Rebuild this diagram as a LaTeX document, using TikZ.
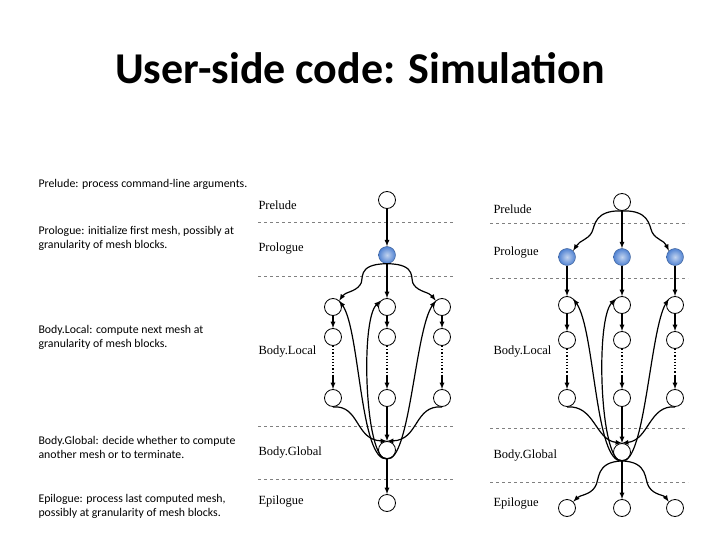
\documentclass[tikz,border=0pt]{standalone}
\usepackage{fontspec}
\setmainfont{Liberation Serif}
\newfontfamily\sansf{Carlito}
\definecolor{bfill}{RGB}{80,130,210}
\begin{document}
\begin{tikzpicture}[x=1pt,y=-1pt,
 nd/.style={circle,draw,thick,minimum size=17pt,inner sep=0pt,fill=white},
 bn/.style={nd,draw=bfill!70!black,inner color=bfill!35!white,outer color=bfill,thin},
 ar/.style={very thick,-{latex}},
 dl/.style={dashed,gray},
 lab/.style={anchor=west,font=\fontsize{12.5}{14}\selectfont},
 txt/.style={anchor=west,font=\sansf\fontsize{11.8}{14}\selectfont,align=left}]
\useasboundingbox (0,0) rectangle (720,540);
\node[font=\sansf\bfseries\fontsize{44}{48}\selectfont] (title) at (360,68) {User-side code: Simulation};
\node[txt] (t1) at (35,184) {Prelude: process command-line arguments.};
\node[txt] (t2) at (35,238) {Prologue: initialize first mesh, possibly at\\granularity of mesh blocks.};
\node[txt] (t3) at (35,337) {Body.Local: compute next mesh at\\granularity of mesh blocks.};
\node[txt] (t4) at (35,447) {Body.Global: decide whether to compute\\another mesh or to terminate.};
\node[txt] (t5) at (35,506) {Epilogue: process last computed mesh,\\possibly at granularity of mesh blocks.};
% dashed lines
\foreach \y in {222,276,426,479} \draw[dl] (258,\y) -- (455,\y);
\foreach \y in {223,278,428,482} \draw[dl] (490,\y) -- (688,\y);
% labels
\node[lab] (l1) at (255,205) {Prelude};
\node[lab] (l2) at (255,249) {Prologue};
\node[lab] (l3) at (255,352) {Body.Local};
\node[lab] (l4) at (255,453) {Body.Global};
\node[lab] (l5) at (255,502) {Epilogue};
\node[lab] (r1) at (490,209) {Prelude};
\node[lab] (r2) at (490,253) {Prologue};
\node[lab] (r3) at (490,352) {Body.Local};
\node[lab] (r4) at (490,456) {Body.Global};
\node[lab] (r5) at (490,504) {Epilogue};
% ---- left graph
\node[nd] (a0) at (387,200) {};
\node[bn] (a1) at (387,255) {};
\foreach \c/\x in {1/333,2/387,3/442}{
 \node[nd] (aa\c) at (\x,307) {};
 \node[nd] (ab\c) at (\x,337) {};
 \node[nd] (ac\c) at (\x,398) {};
 \draw[ar] (aa\c) -- (ab\c);
 \draw[very thick,dotted] (ab\c) -- (\x,375);
 \draw[ar] (\x,375) -- (ac\c);
}
\node[nd] (ag) at (387,450) {};
\node[nd] (ae) at (387,503) {};
\draw[ar] (a0) -- (a1);
\draw[ar] (a1) -- (aa2);
\draw[ar] (a1.south) .. controls (355,264) and (365,280) .. (360,285) .. controls (355,292) and (345,292) .. (aa1.north east);
\draw[ar] (a1.south) .. controls (419,264) and (409,280) .. (414,285) .. controls (419,292) and (429,292) .. (aa3.north west);
\draw[ar] (ac2) -- (ag);
\draw[ar] (ac1.south) .. controls (360,405) and (355,440) .. (ag.north);
\draw[ar] (ac3.south) .. controls (414,405) and (419,440) .. (ag.north);
\draw[ar] (ag.south) .. controls (360,462) and (360,330) .. (aa1.north east);
\draw[ar] (ag.south) .. controls (365,462) and (360,320) .. (aa2.north west);
\draw[ar] (ag.south) .. controls (410,462) and (415,330) .. (aa3.north west);
\draw[ar] (ag) -- (ae);
% ---- right graph
\node[nd] (b0) at (622,202) {};
\foreach \c/\x in {1/567,2/622,3/675}{
 \node[bn] (bp\c) at (\x,257) {};
 \node[nd] (ba\c) at (\x,305) {};
 \node[nd] (bb\c) at (\x,340) {};
 \node[nd] (bc\c) at (\x,398) {};
 \node[nd] (be\c) at (\x,508) {};
 \draw[ar] (bp\c) -- (ba\c);
 \draw[ar] (ba\c) -- (bb\c);
 \draw[very thick,dotted] (bb\c) -- (\x,375);
 \draw[ar] (\x,375) -- (bc\c);
}
\node[nd] (bg) at (622,452) {};
\draw[ar] (b0) -- (bp2);
\draw[ar] (b0.south) .. controls (595,210) and (595,225) .. (592,232) .. controls (588,240) and (580,240) .. (bp1.north east);
\draw[ar] (b0.south) .. controls (649,210) and (649,225) .. (652,232) .. controls (656,240) and (664,240) .. (bp3.north west);
\draw[ar] (bc2) -- (bg);
\draw[ar] (bc1.south) .. controls (595,405) and (595,440) .. (bg.north);
\draw[ar] (bc3.south) .. controls (649,405) and (649,440) .. (bg.north);
\draw[ar] (bg.south) .. controls (595,464) and (595,330) .. (ba1.north east);
\draw[ar] (bg.south) .. controls (600,464) and (595,320) .. (ba2.north west);
\draw[ar] (bg.south) .. controls (645,464) and (650,330) .. (ba3.north west);
\draw[ar] (bg) -- (be2);
\draw[ar] (bg.south) .. controls (595,462) and (600,480) .. (595,487) .. controls (590,495) and (580,495) .. (be1.north east);
\draw[ar] (bg.south) .. controls (649,462) and (644,480) .. (649,487) .. controls (654,495) and (664,495) .. (be3.north west);
\end{tikzpicture}
\end{document}
